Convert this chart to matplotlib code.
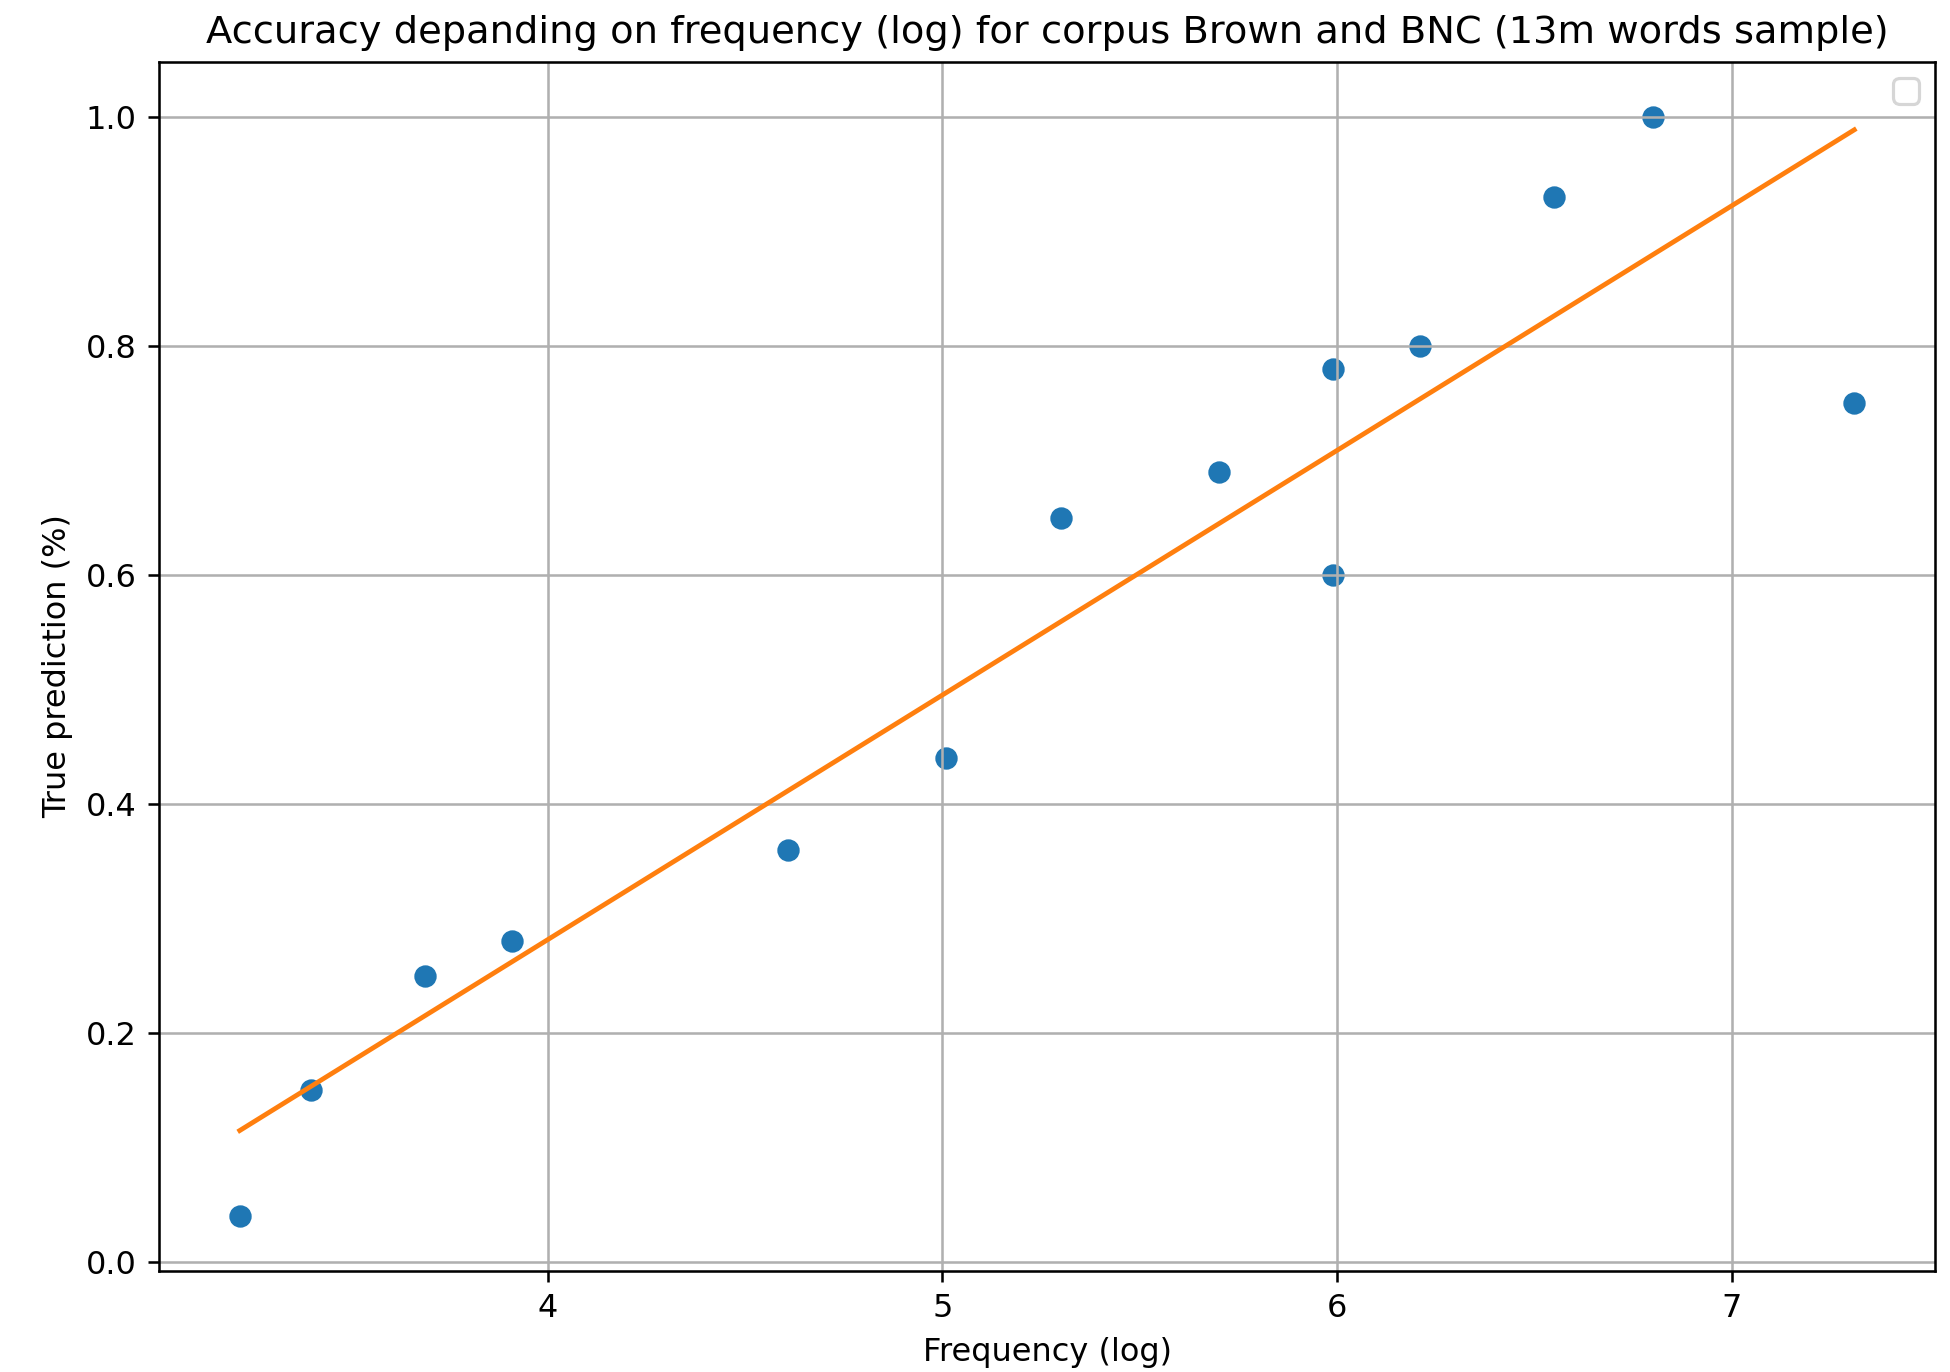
import matplotlib
matplotlib.use('Agg')
import matplotlib.pyplot as plt
import numpy as np

# frequency (log) and true prediction rate
freq_log = [3.22, 3.40, 3.69, 3.91, 4.61, 5.01, 5.30, 5.70, 5.99, 5.99, 6.21, 6.55, 6.80, 7.31]
accuracy = [0.04, 0.15, 0.25, 0.28, 0.36, 0.44, 0.65, 0.69, 0.78, 0.60, 0.80, 0.93, 1.00, 0.75]
x_ticks = [4, 5, 6, 7]

x = np.array(freq_log)
y = np.array(accuracy)
a, b = np.polyfit(x, y, 1)
xs = np.sort(x)

DPI = 230
fig = plt.figure(figsize=(1951 / DPI, 1372 / DPI), dpi=DPI)
ax = fig.add_subplot(111)
fig.subplots_adjust(left=0.0815, right=0.9918, top=0.9548, bottom=0.0736)

ax.scatter(x, y)
ax.plot(xs, a * xs + b, color='C1')
ax.set_xticks(x_ticks)
ax.grid(True)
ax.legend()
ax.set_title('Accuracy depanding on frequency (log) for corpus Brown and BNC (13m words sample)')
ax.set_xlabel('Frequency (log)')
ax.set_ylabel('True prediction (%)')

fig.savefig('out.png', dpi=DPI)
